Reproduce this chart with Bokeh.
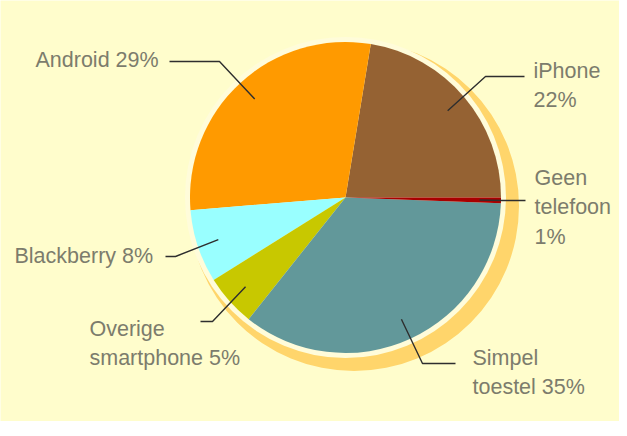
import math
from bokeh.plotting import figure
from bokeh.models import Range1d, ColumnDataSource
from bokeh.core.properties import value
from bokeh.embed import file_html
from bokeh.resources import INLINE

# ---- data ----
categories = ["iPhone", "Android", "Blackberry", "Overige smartphone", "Simpel toestel", "Geen telefoon"]
shares = [22.4, 28.9, 7.6, 5.4, 35.1, 0.6]
label_lines = [["iPhone", "22%"], ["Android 29%"], ["Blackberry 8%"],
               ["Overige", "smartphone 5%"], ["Simpel", "toestel 35%"],
               ["Geen", "telefoon", "1%"]]
colors = ["#956233", "#FF9A00", "#99FFFF", "#C8C800", "#62989A", "#A80000"]

# ---- layout (page pixel coordinates, y downward) ----
W, H = 619, 421
PAGE_H = 436
cx, cy, R = 353, 205, 155.5
# elbow point, end x of leader, text left x, first baseline
elbow = [(493, 84), (227, 69), (183, 264), (220, 329), (430, 371), (510, 208)]
end_x = [532, 177, 173, 208, 463, 533]
text_x = [541, 43, 22, 97, 480, 542]
text_y0 = [78, 67, 263, 336, 365, 185]
line_gap = 29.5

def Y(sy):
    return PAGE_H - sy

p = figure(width=W, height=H, output_backend="svg", toolbar_location=None,
           x_range=Range1d(8, 8 + W), y_range=Range1d(PAGE_H - 8 - H, PAGE_H - 8),
           min_border=0)
p.axis.visible = False
p.grid.visible = False
p.outline_line_color = None
p.background_fill_color = "#FFFDCC"
p.border_fill_color = "#FFFDCC"

# shadow ring
p.circle(x=[cx + 8.5], y=[Y(cy + 8.5)], radius=165, fill_color="#FFD56B",
         line_color=None, radius_units="screen")
p.circle(x=[cx], y=[Y(cy)], radius=160.5, fill_color="#FFFCDA",
         line_color=None, radius_units="screen")

# wedges
total = sum(shares)
starts, ends, mids = [], [], []
acc = 0.0
for s in shares:
    a0 = acc / total * 2 * math.pi
    acc += s
    a1 = acc / total * 2 * math.pi
    starts.append(a0)
    ends.append(a1)
    mids.append((a0 + a1) / 2)

src = ColumnDataSource(dict(start=starts, end=ends, color=colors, cat=categories))
p.wedge(x=cx, y=Y(cy), radius=R, radius_units="screen", start_angle="start",
        end_angle="end", fill_color="color", line_color=None, source=src)

# leaders
for i, m in enumerate(mids):
    r0 = 134
    sx = cx + r0 * math.cos(m)
    sy = cy - r0 * math.sin(m)
    ex, ey = elbow[i]
    xs = [sx, ex, end_x[i]]
    ys = [Y(sy), Y(ey), Y(ey)]
    p.line(xs, ys, line_color="#2E2E2E", line_width=1.4)

# labels
for i, lines in enumerate(label_lines):
    for j, t in enumerate(lines):
        p.text(x=[text_x[i]], y=[Y(text_y0[i] + j * line_gap)], text=[t],
               text_font=value("Liberation Sans"), text_font_size="21.5px",
               text_color="#7C7C6C", text_baseline="alphabetic", text_align="left")

open("out.html", "w").write(file_html(p, INLINE))
